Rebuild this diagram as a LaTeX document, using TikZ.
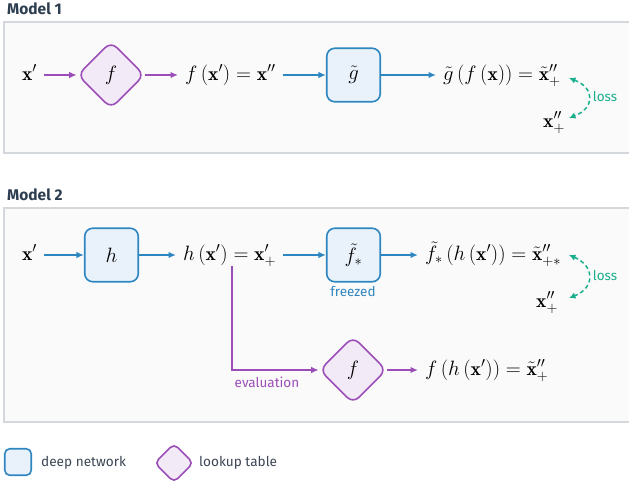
\documentclass[tikz,border=0pt]{standalone}
\usepackage{amsmath}
\usepackage{fontspec}
\setsansfont{Fira Sans}
\usetikzlibrary{shapes.geometric,arrows.meta,calc}
\definecolor{cblue}{RGB}{46,134,193}
\definecolor{cbluef}{RGB}{233,242,250}
\definecolor{cpurp}{RGB}{155,78,184}
\definecolor{cpurpf}{RGB}{243,234,247}
\definecolor{cteal}{RGB}{26,175,140}
\definecolor{cpanel}{RGB}{250,250,250}
\definecolor{cpanelb}{RGB}{212,216,220}
\definecolor{ctitle}{RGB}{44,62,80}
\definecolor{clegend}{RGB}{60,70,84}
\begin{document}
\begin{tikzpicture}[x=1pt,y=-1pt,
  mathtxt/.style={inner ysep=0pt, inner xsep=7pt, anchor=base west, font=\fontsize{19.5}{23}\selectfont},
  dnet/.style={draw=cblue, fill=cbluef, line width=1.6pt, rounded corners=8pt, minimum size=53.5pt, inner sep=0pt, font=\fontsize{19.5}{23}\selectfont},
  ltab/.style={diamond, aspect=1, draw=cpurp, fill=cpurpf, line width=1.6pt, rounded corners=8pt, minimum width=67pt, minimum height=67pt, inner sep=0pt, font=\fontsize{19.5}{23}\selectfont},
  barr/.style={draw=cblue, line width=1.5pt, -{Latex[length=7.5pt,width=6.5pt]}},
  parr/.style={draw=cpurp, line width=1.5pt, -{Latex[length=7.5pt,width=6.5pt]}},
  larr/.style={draw=cteal, line width=1.5pt, dash pattern=on 4pt off 3pt, {Latex[length=6.5pt,width=6.5pt]}-{Latex[length=6.5pt,width=6.5pt]}},
  panel/.style={fill=cpanel, draw=cpanelb, line width=1.6pt},
  ttl/.style={font=\sffamily\bfseries\fontsize{15.5}{18}\selectfont, text=ctitle, anchor=west, inner sep=0pt},
  lbl/.style={font=\sffamily\fontsize{13.5}{16}\selectfont, inner sep=0pt},
  legtxt/.style={font=\sffamily\fontsize{13.6}{16}\selectfont, text=clegend, anchor=west, inner sep=0pt}
]
\clip (0,0) rectangle (629,485);
\fill[white] (0,0) rectangle (629,485);

% ---------- Model 1 ----------
\node[ttl] (m1) at (7,8.5) {Model 1};
\draw[panel] (4,22) rectangle (640,153);

\node[mathtxt] (x1) at (15,80.5) {$\mathbf{x}'$};
\node[ltab] (d1) at (111,75) {$f$};
\node[mathtxt] (t1) at (178,80.5) {$f\left(\mathbf{x}'\right)=\mathbf{x}''$};
\node[dnet] (g) at (353.5,75) {$\tilde{g}$};
\node[mathtxt] (t2) at (436,80.5) {$\tilde{g}\left(f\left(\mathbf{x}\right)\right)=\tilde{\mathbf{x}}''_{+}$};
\node[mathtxt] (x2) at (536,127) {$\mathbf{x}''_{+}$};
\node[lbl, text=cteal] (l1) at (605,97) {loss};

\draw[parr] (x1.east |- d1.west) -- (d1.west);
\draw[parr] (d1.east) -- (d1.east -| t1.west);
\draw[barr] (t1.east |- g.west) -- (g.west);
\draw[barr] (g.east) -- (g.east -| t2.west);
\coordinate (la1) at (569,78);
\coordinate (lb1) at (569,118);
\draw[larr] (la1) .. controls (595,88) and (595,108) .. (lb1);

% ---------- Model 2 ----------
\node[ttl] (m2) at (7,195) {Model 2};
\draw[panel] (4,208) rectangle (640,422);

\node[mathtxt] (x3) at (15,260.5) {$\mathbf{x}'$};
\node[dnet] (h) at (111.5,255) {$h$};
\node[mathtxt] (t3) at (176,260.5) {$h\left(\mathbf{x}'\right)=\mathbf{x}'_{+}$};
\node[dnet] (fs) at (353.5,255) {$\tilde{f}_{*}$};
\node[lbl, text=cblue] (fz) at (353,292) {freezed};
\node[mathtxt] (t4) at (418,260.5) {$\tilde{f}_{*}\left(h\left(\mathbf{x}'\right)\right)=\tilde{\mathbf{x}}''_{+*}$};
\node[mathtxt] (x4) at (529,307) {$\mathbf{x}''_{+}$};
\node[lbl, text=cteal] (l2) at (605,276) {loss};

\node[ltab] (d2) at (353,370) {$f$};
\node[mathtxt] (t5) at (418,375) {$f\left(h\left(\mathbf{x}'\right)\right)=\tilde{\mathbf{x}}''_{+}$};
\node[lbl, text=cpurp] (ev) at (267,382) {evaluation};

\draw[barr] (x3.east |- h.west) -- (h.west);
\draw[barr] (h.east) -- (h.east -| t3.west);
\draw[barr] (t3.east |- fs.west) -- (fs.west);
\draw[barr] (fs.east) -- (fs.east -| t4.west);
\coordinate (br) at (232,266);
\draw[parr] (br) |- (d2.west);
\draw[parr] (d2.east) -- (d2.east -| t5.west);
\coordinate (la2) at (569,255);
\coordinate (lb2) at (569,298);
\draw[larr] (la2) .. controls (595,266) and (595,288) .. (lb2);

% ---------- Legend ----------
\node[dnet, minimum size=26.5pt, rounded corners=5pt] (lgb) at (18,462) {};
\node[legtxt] (lgbt) at (41,463) {deep network};
\node[ltab, minimum width=39pt, minimum height=39pt, rounded corners=5pt] (lgd) at (174,463) {};
\node[legtxt] (lgdt) at (199,463) {lookup table};
\end{tikzpicture}
\end{document}
